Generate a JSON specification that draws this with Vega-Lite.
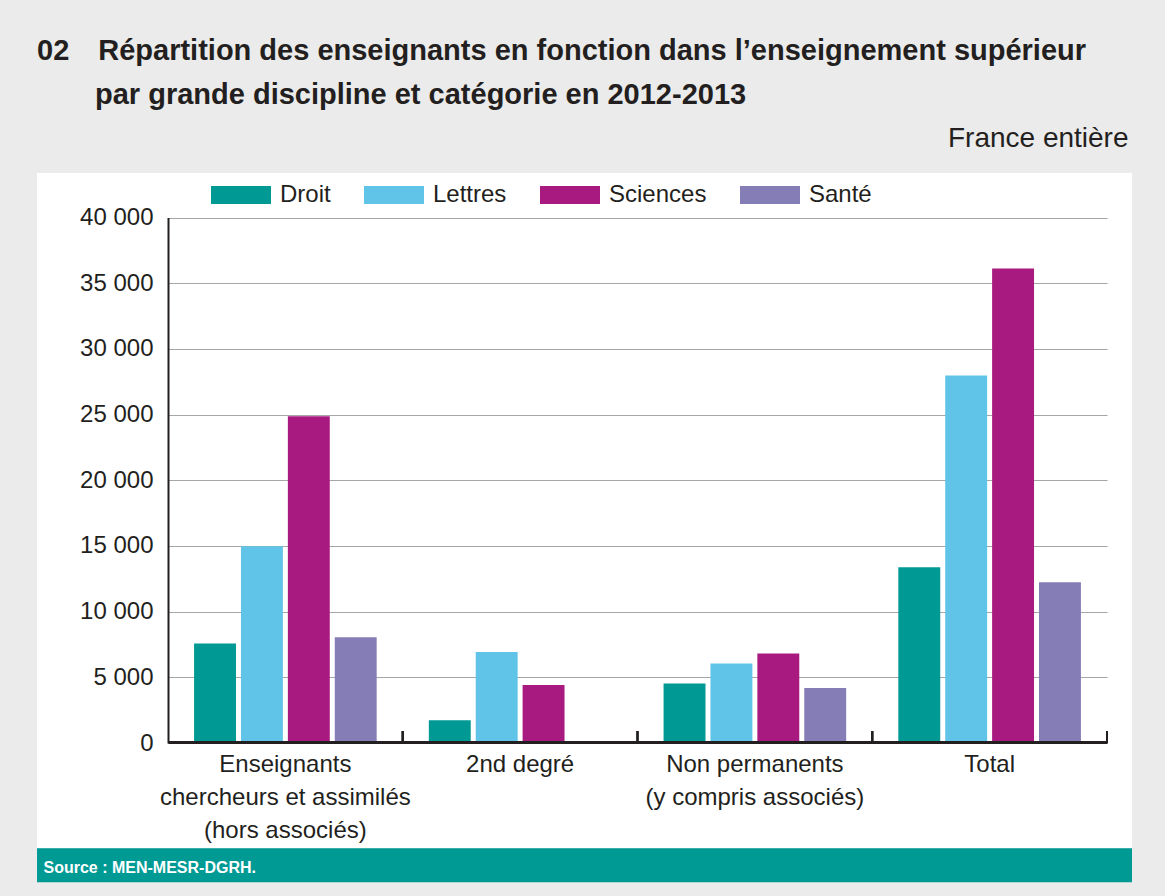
{
  "$schema": "https://vega.github.io/schema/vega-lite/v6.json",
  "width": 1095,
  "height": 675,
  "autosize": {"type": "none"},
  "padding": {"left": 37, "top": 173, "right": 33, "bottom": 48},
  "background": "#ebebeb",
  "config": {"view": {"fill": "white", "stroke": null}, "font": "Liberation Sans"},
  "title": {
    "text": ["02\u2003Répartition des enseignants en fonction dans l’enseignement supérieur", "\u200b\u2003\u2003par grande discipline et catégorie en 2012-2013"],
    "anchor": "start",
    "frame": "group",
    "font": "Liberation Sans",
    "fontWeight": "bold",
    "fontSize": 29,
    "lineHeight": 44,
    "color": "#231f20",
    "offset": 14
  },
  "data": {
    "values": [
      {"categorie": "Enseignants\nchercheurs et assimilés\n(hors associés)", "discipline": "Droit", "effectif": 7570},
      {"categorie": "Enseignants\nchercheurs et assimilés\n(hors associés)", "discipline": "Lettres", "effectif": 14980},
      {"categorie": "Enseignants\nchercheurs et assimilés\n(hors associés)", "discipline": "Sciences", "effectif": 24875},
      {"categorie": "Enseignants\nchercheurs et assimilés\n(hors associés)", "discipline": "Santé", "effectif": 8050},
      {"categorie": "2nd degré", "discipline": "Droit", "effectif": 1730},
      {"categorie": "2nd degré", "discipline": "Lettres", "effectif": 6930},
      {"categorie": "2nd degré", "discipline": "Sciences", "effectif": 4415},
      {"categorie": "Non permanents\n(y compris associés)", "discipline": "Droit", "effectif": 4520},
      {"categorie": "Non permanents\n(y compris associés)", "discipline": "Lettres", "effectif": 6045},
      {"categorie": "Non permanents\n(y compris associés)", "discipline": "Sciences", "effectif": 6805},
      {"categorie": "Non permanents\n(y compris associés)", "discipline": "Santé", "effectif": 4190},
      {"categorie": "Total", "discipline": "Droit", "effectif": 13380},
      {"categorie": "Total", "discipline": "Lettres", "effectif": 27975},
      {"categorie": "Total", "discipline": "Sciences", "effectif": 36120},
      {"categorie": "Total", "discipline": "Santé", "effectif": 12235}
    ]
  },
  "resolve": {"axis": {"x": "independent"}},
  "layer": [
    {
      "mark": {"type": "bar"},
      "encoding": {
        "x": {
          "field": "categorie", "type": "nominal",
          "sort": ["Enseignants\nchercheurs et assimilés\n(hors associés)", "2nd degré", "Non permanents\n(y compris associés)", "Total"],
          "scale": {"range": [131, 1070], "paddingInner": 0, "paddingOuter": 0},
          "axis": {
            "orient": "bottom", "offset": -106,
            "labelExpr": "split(datum.label, '\\n')",
            "labelFontSize": 24, "labelLineHeight": 33, "labelPadding": 10,
            "labelColor": "#231f20", "labelAngle": 0, "labelLimit": 400, "labelOverlap": false,
            "ticks": false, "domainColor": "#231f20", "domainWidth": 3,
            "title": "Source : MEN-MESR-DGRH.", "titleX": 6, "titleY": 130,
            "titleAlign": "left", "titleAnchor": "start", "titleBaseline": "alphabetic",
            "titleColor": "white", "titleFont": "Liberation Sans", "titleFontWeight": "bold", "titleFontSize": 16,
            "zindex": 1
          }
        },
        "xOffset": {
          "field": "discipline", "type": "nominal",
          "sort": ["Droit", "Lettres", "Sciences", "Santé"],
          "scale": {"paddingInner": 0.106, "paddingOuter": 0.556}
        },
        "y": {
          "field": "effectif", "type": "quantitative",
          "scale": {"domain": [0, 40000], "range": [570, 44.5], "nice": false},
          "axis": {
            "orient": "left", "offset": -131,
            "values": [0, 5000, 10000, 15000, 20000, 25000, 30000, 35000, 40000],
            "labelExpr": "replace(format(datum.value, ','), ',', ' ')",
            "labelFontSize": 24, "labelColor": "#231f20", "labelPadding": 15,
            "ticks": false, "domainColor": "#231f20", "domainWidth": 2,
            "grid": true, "gridColor": "#a6a6a6", "gridWidth": 1.2, "title": null
          }
        },
        "color": {
          "field": "discipline", "type": "nominal",
          "scale": {"domain": ["Droit", "Lettres", "Sciences", "Santé"], "range": ["#009994", "#5fc4e8", "#a91a81", "#857db5"]},
          "legend": {
            "orient": "none", "legendX": 174, "legendY": -8, "direction": "horizontal",
            "title": null, "padding": 0,
            "symbolType": "M-1,-0.3H1V0.3H-1Z", "symbolSize": 3600, "symbolStrokeWidth": 0, "symbolOpacity": 1,
            "labelFontSize": 24, "labelColor": "#231f20", "labelOffset": 9, "columnPadding": 33
          }
        }
      }
    },
    {
      "mark": {"type": "rule", "color": "#231f20", "strokeWidth": 2},
      "encoding": {
        "x": {
          "field": "categorie", "type": "nominal", "bandPosition": 1,
          "sort": ["Enseignants\nchercheurs et assimilés\n(hors associés)", "2nd degré", "Non permanents\n(y compris associés)", "Total"],
          "scale": {"range": [131, 1070], "paddingInner": 0, "paddingOuter": 0},
          "axis": {
            "orient": "top", "labels": false, "ticks": false, "domain": false, "grid": false,
            "title": "France entière", "titleX": 1091, "titleY": -27, "titleAlign": "right",
            "titleBaseline": "alphabetic", "titleFontSize": 28, "titleFontWeight": "normal",
            "titleColor": "#231f20", "titleFont": "Liberation Sans"
          }
        },
        "y": {"datum": 0, "type": "quantitative", "scale": {"domain": [0, 40000], "range": [570, 44.5], "nice": false}},
        "y2": {"datum": 914}
      }
    },
    {
      "data": {"values": [{"bandeau": "source"}]},
      "mark": {"type": "rect", "color": "#009a95"},
      "encoding": {
        "y": {"datum": -8017, "type": "quantitative", "scale": {"domain": [0, 40000], "range": [570, 44.5], "nice": false}},
        "y2": {"datum": -10605}
      }
    }
  ]
}
